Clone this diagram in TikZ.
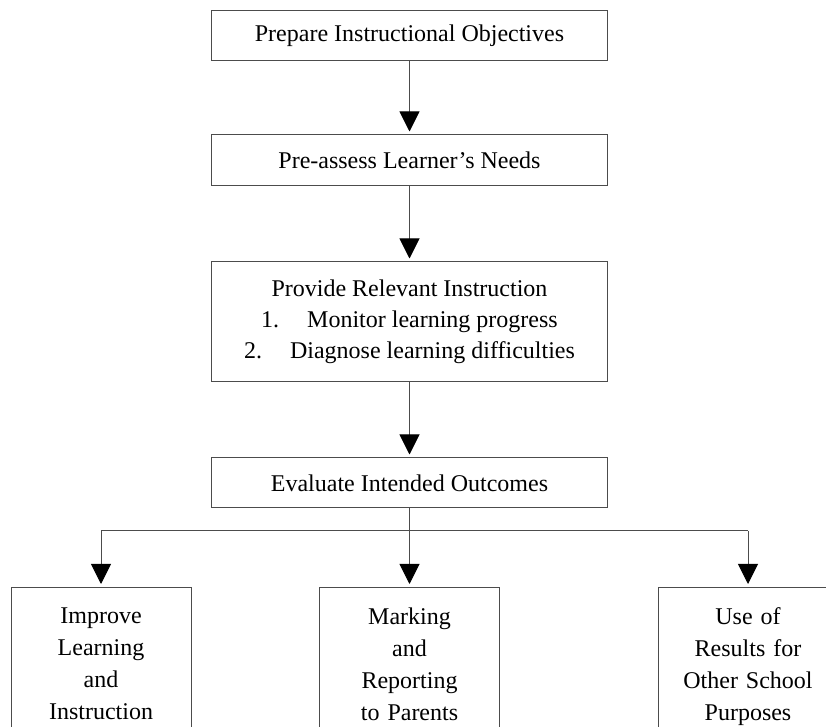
\documentclass[tikz,border=0pt]{standalone}
\usepackage{fontspec}
\setmainfont{Liberation Serif}
\usetikzlibrary{arrows.meta}

\begin{document}
\begin{tikzpicture}[x=0.5pt,y=-0.5pt,
  stage/.style={draw=black!70,line width=0.5pt,minimum width=198pt,align=center,inner sep=0pt,
    font=\fontsize{12}{15.5}\selectfont},
  outcome/.style={draw=black!70,line width=0.5pt,minimum width=90pt,text width=88pt,align=center,
    anchor=north,inner xsep=1pt,inner ysep=10pt,font=\fontsize{12}{16}\selectfont},
  flow/.style={draw=black!70,line width=0.5pt,-{Triangle[width=10pt,length=10pt,color=black]},shorten >=1.5pt},
  link/.style={draw=black!70,line width=0.5pt}]
\useasboundingbox (0,0) rectangle (826,727);
\clip (0,0) rectangle (826,727);
% main chain
\node[stage,minimum height=25pt] (prep) at (409.5,36) {Prepare Instructional Objectives};
\node[stage,minimum height=25.5pt] (assess) at (409.5,160.5) {Pre-assess Learner's Needs};
\node[stage,minimum height=60pt] (instr) at (409.5,322) {Provide Relevant Instruction\\
  1.\hspace{14pt}Monitor learning progress\\
  2.\hspace{14pt}Diagnose learning difficulties};
\node[stage,minimum height=25pt] (eval) at (409.5,483) {Evaluate Intended Outcomes};
% outcomes
\node[outcome] (improve) at (101,587) {Improve\\Learning\\and\\Instruction};
\node[outcome] (marking) at (409.5,587) {Marking\\and\\Reporting\\to Parents};
\node[outcome] (results) at (748,587) {Use of\\Results for\\Other School\\Purposes};
\coordinate (split) at (409.5,531);
\draw[flow] (prep) -- (assess);
\draw[flow] (assess) -- (instr);
\draw[flow] (instr) -- (eval);
\draw[flow] (eval) -- (marking);
\draw[link] (improve.north |- split) -- (results.north |- split);
\draw[flow] (improve.north |- split) -- (improve);
\draw[flow] (results.north |- split) -- (results);
\end{tikzpicture}
\end{document}
